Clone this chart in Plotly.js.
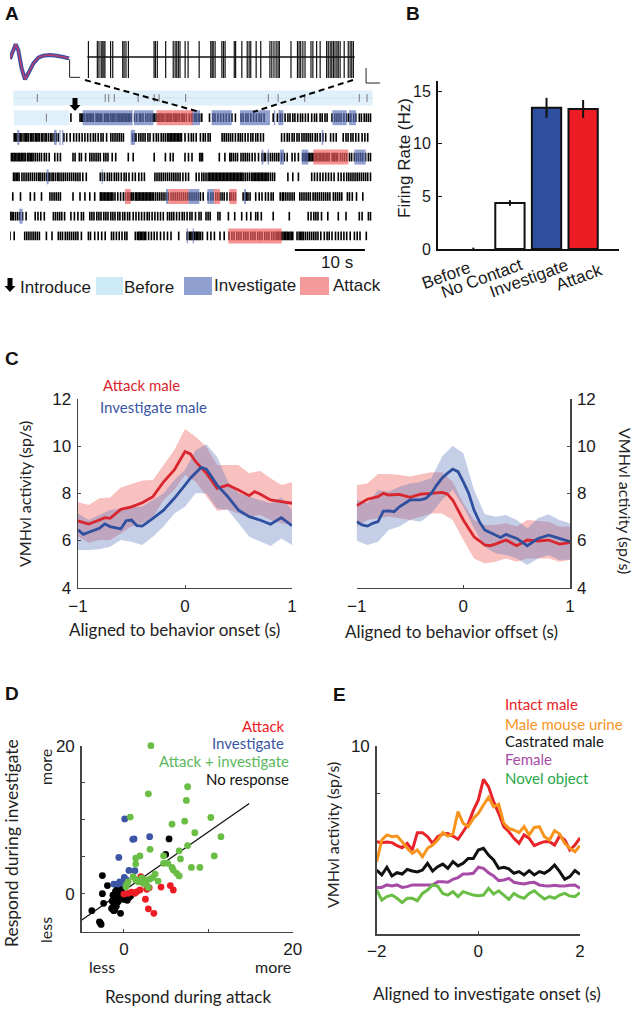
<!DOCTYPE html>
<html><head><meta charset="utf-8"><script src="https://cdn.plot.ly/plotly-3.0.1.min.js"></script>
<style>html,body{margin:0;padding:0;background:#fff}#p{width:638px;height:1009px}</style></head>
<body><div id="p"></div>
<script>
// ---------- Panel A data (seconds) ----------
const spikesBefore=[3.9,13.6,14.1,14.9,18.3,20.6,21.3,25.1,36.9,38.3,42.1,49.9,51];
const spikesBeforeRow1=[5.2];
const spikesRow1=[8.7,10.0,10.2,10.4,10.6,10.9,11.1,11.3,11.5,11.7,11.9,12.3,12.5,12.7,12.9,13.1,13.5,13.7,13.9,14.1,14.4,14.6,14.8,15.0,15.3,15.5,15.7,15.9,16.1,16.3,16.5,16.7,16.9,17.1,17.3,17.8,18.1,18.5,18.7,19.0,19.4,19.7,20.0,20.3,20.5,20.7,21.0,21.2,21.4,21.6,21.8,22.0,22.3,22.5,22.7,22.9,23.1,23.4,23.6,23.8,24.0,24.2,24.5,24.7,24.9,25.2,25.6,25.9,26.1,26.4,26.6,26.9,27.1,27.4,28.5,29.0,29.3,29.7,30.1,30.5,30.9,31.3,31.7,32.2,33.0,33.3,33.7,34.0,34.4,34.8,35.2,35.6,35.9,36.3,37.6,38.2,38.6,38.9,39.3,39.7,40.0,40.4,40.7,41.1,41.5,41.8,42.2,42.6,43.1,43.5,43.8,44.3,44.6,45.0,45.3,46.0,46.4,46.7,47.0,47.3,47.7,48.1,48.4,48.7,49.1,49.4,49.9,50.2,50.6,50.9,51.2,51.5];
const spikesRow2=[0.6,0.8,1.0,1.3,1.5,1.7,2.0,2.2,2.4,2.6,2.9,3.1,3.3,3.6,3.8,4.0,4.2,4.5,4.7,5.0,5.2,5.5,5.8,6.0,6.3,6.6,6.9,7.7,8.1,8.6,9.1,9.5,9.9,10.3,10.7,11.1,11.5,11.9,12.2,12.6,13.0,13.3,13.8,14.4,14.7,15.0,15.3,15.6,15.9,16.2,17.5,17.8,18.0,18.4,18.7,19.0,19.3,19.7,20.0,20.5,20.9,21.2,21.6,21.9,22.2,22.5,22.7,22.9,23.1,23.3,23.5,23.7,23.9,24.1,24.3,24.5,25.0,25.5,25.9,26.2,26.6,27.2,27.6,27.9,28.3,28.6,30.3,30.6,30.9,31.2,31.5,31.8,32.2,32.6,32.9,33.2,33.6,34.0,34.4,34.7,35.1,35.4,35.8,36.2,38.8,39.2,39.6,39.9,40.3,40.6,41.0,41.3,41.7,42.0,42.3,42.6,42.9,43.2,43.6,43.9,44.3,44.7,45.1,45.8,46.2,46.6,47.6,48.0,48.3,48.7,49.0,49.4,49.8,50.3,50.7,51.1];
const spikesRow3=[0.2,0.4,0.6,0.8,1.0,1.2,1.4,1.6,1.8,2.0,2.2,2.5,2.7,2.9,3.1,3.3,3.6,3.9,4.2,4.5,4.9,5.2,5.6,6.4,6.8,7.2,9.0,9.3,9.9,10.2,10.8,11.4,11.7,12.0,12.3,12.6,12.9,13.4,13.7,14.0,14.6,15.1,16.9,17.6,20.6,22.2,22.9,23.3,25.0,25.5,26.0,27.1,27.3,27.5,29.9,30.7,31.4,31.6,31.9,32.2,32.5,33.0,33.3,33.6,33.9,34.2,34.6,35.0,35.5,36.0,36.3,36.5,36.9,37.2,37.5,37.8,38.1,38.4,38.8,39.2,39.6,40.3,40.7,41.2,41.8,42.0,42.2,42.4,42.6,42.8,43.0,43.2,43.4,43.6,43.8,44.0,44.2,44.4,44.6,44.8,45.0,45.2,45.4,45.6,46.0,46.2,46.4,46.6,46.8,47.2,47.5,47.8,48.1,48.5,48.8,49.2,49.5,49.8,50.1,50.4,50.8,51.2,51.5];
const spikesRow4=[0.5,0.7,0.9,1.1,1.3,1.7,2.0,2.3,2.6,2.9,3.2,3.5,3.8,4.1,4.3,4.6,4.9,5.2,5.5,5.7,6.0,6.2,6.5,6.8,7.0,7.3,7.6,7.9,8.2,8.5,8.8,9.1,9.4,9.7,10.0,10.4,10.9,12.9,13.2,13.5,13.9,14.2,14.5,14.9,15.2,15.5,15.9,16.3,16.6,17.0,17.5,17.9,18.4,18.8,19.2,20.7,21.0,21.3,21.6,21.9,22.2,22.5,22.8,23.1,23.4,23.7,24.0,24.3,24.7,25.1,25.5,26.6,27.0,27.4,27.7,28.0,28.3,28.5,28.7,28.9,29.1,29.3,29.5,29.7,29.9,30.1,30.3,30.5,30.7,30.9,31.1,31.3,31.5,31.7,31.9,32.1,32.3,32.5,32.7,32.9,33.1,33.3,33.6,33.9,34.2,34.5,34.7,34.9,35.1,35.3,35.5,35.7,35.9,36.1,36.3,36.5,36.7,36.9,37.2,37.5,37.8,39.7,40.4,41.2,43.1,43.5,43.9,44.3,44.7,45.1,45.5,45.9,46.3,46.9,47.3,47.7,48.1,48.4,48.7,49.0,49.3,49.6,49.9,50.2,50.5,50.8,51.1,51.5];
const spikesRow5=[0.4,1.5,2.9,3.5,4.5,5.7,6.0,6.3,6.6,6.9,7.2,9.0,10.0,10.7,11.4,12.1,12.9,13.1,13.3,13.5,13.7,13.9,14.1,14.3,14.5,14.7,15.0,15.4,15.8,16.2,16.5,16.8,17.0,17.2,17.4,17.6,17.9,18.1,18.3,18.5,18.7,18.9,19.1,19.3,19.5,19.7,19.9,20.1,20.3,20.5,20.8,21.1,21.4,21.7,22.0,22.3,22.6,23.0,23.3,23.6,23.9,24.2,24.5,24.8,25.1,25.4,25.7,26.0,26.3,26.6,26.9,27.2,27.6,28.3,28.7,29.0,29.4,29.7,30.0,30.3,30.6,31.0,31.4,31.6,31.9,32.2,33.3,33.6,33.8,34.0,34.3,35.1,35.6,36.0,36.5,36.9,37.3,37.6,38.6,38.9,39.1,39.4,39.7,40.0,40.3,40.6,41.4,41.7,42.0,42.3,42.6,42.9,43.3,43.6,43.9,44.2,44.5,44.8,45.1,45.4,45.7,46.2,46.5,46.8,47.1,47.4,48.2,48.5,48.9,49.5,50.4];
const spikesRow6=[0.1,0.3,0.5,0.8,1.1,1.4,1.8,2.3,3.6,4.0,4.4,4.9,6.2,6.5,6.8,7.1,7.4,7.8,8.7,9.2,9.7,10.2,10.5,11.4,11.7,12.0,12.4,12.7,13.0,13.4,13.7,14.0,14.4,14.7,15.0,15.4,15.7,16.1,16.4,16.8,17.1,17.6,18.0,18.4,18.8,19.2,19.6,19.9,20.3,20.7,21.1,21.5,21.9,22.5,22.8,23.1,23.4,23.8,24.2,24.6,24.9,25.3,25.7,26.0,26.5,27.0,27.3,28.0,28.3,28.6,29.7,30.0,31.2,32.1,33.1,33.8,34.4,35.1,35.4,35.9,37.6,39.9,42.6,43.0,43.4,43.7,44.0,44.5,45.4,46.9,48.0,49.9,50.3,51.2,51.5];
const spikesRow7=[0,0.6,2.1,2.4,2.7,3.0,3.3,3.6,3.9,4.2,5.2,6.0,6.9,7.2,7.5,7.9,8.2,8.5,8.8,9.1,9.4,9.7,10.2,11.2,11.5,12.1,12.6,13.1,13.6,14.5,14.8,15.2,15.6,16.0,16.4,16.7,17.9,18.2,18.4,18.6,18.8,19.0,19.2,19.4,19.8,20.2,20.6,21.0,21.5,22.0,22.5,23.0,24.1,25.3,25.6,25.8,26.0,26.2,26.4,26.6,26.8,27.0,27.2,27.5,28.2,28.7,29.2,30.0,30.6,31.3,31.7,32.0,32.4,32.7,33.0,33.4,33.7,34.0,34.4,34.7,35.0,35.4,35.7,36.0,36.4,36.7,37.0,37.4,37.7,38.0,38.2,38.4,38.6,38.8,39.0,39.2,39.4,39.6,39.8,40.0,40.2,40.4,41.0,41.3,41.5,41.7,41.9,42.2,42.5,42.8,43.1,43.4,43.7,44.0,44.4,44.9,45.3,45.6,46.0,46.5,46.9,47.3,47.7,48.1,48.6,49.2,49.6,50.0,50.9];
const spikeRows=[spikesRow1,spikesRow2,spikesRow3,spikesRow4,spikesRow5,spikesRow6,spikesRow7];
const beforeBouts=[[0,0.48,51.8],[1,0.57,8.43]];
const investigateBouts=[[1,10.38,17.52],[1,17.71,20.48],[1,25.95,27.14],[1,28.8,31.67],[1,32.86,37.14],[1,37.7,37.9],[1,38.33,39.05],[1,46.05,48.1],[1,48.43,49.43],[2,1.05,1.33],[2,6.29,6.67],[2,7.05,7.24],[2,7.43,7.62],[2,17.24,17.86],[2,44.52,44.76],[3,35.95,36.19],[3,36.81,37],[3,38.57,39.14],[3,41.67,42.62],[3,49.19,50.81],[4,5.24,5.52],[4,13.1,13.24],[5,22.29,22.62],[5,25.48,27.05],[5,28.19,29.14],[5,33.43,33.71],[6,1.33,1.81],[7,25.24,25.43],[7,26.1,26.29]];
const attackBouts=[[1,20.95,26.1],[3,43.33,48.33],[5,16.43,17.24],[5,22.62,25.48],[5,29.14,30],[5,31.33,32.38],[7,31.19,38.81]];
const scaleBarX=[40.7,50.7];
const waveT=[0,0.14,0.29,0.42,0.59,0.76,0.93,1.19,1.44,1.69,2.03,2.37,2.71,3];
const waveA=[-0.2,2,4.2,2.5,-3,-6.3,-4.5,-1.5,0.2,0.8,1,0.8,0.4,0];
const traceSpikes=[0.09,0.42,0.48,0.56,0.60,0.66,0.70,0.91,0.99,1.36,1.41,1.48,1.57,2.52,2.57,2.64,2.95,3.23,3.30,3.36,3.42,3.48,3.67,3.78,4.19,4.62,4.67,4.71,4.78,5.03,5.09,5.15,5.49,5.54,5.77,5.97,6.04,6.10,6.30,6.47,6.81,6.88,6.96,7.04,7.11,7.16,7.59,7.83,7.89,7.95,8.03,8.11,8.33,8.40,8.54,8.67,8.91,8.97,9.04,9.10,9.16,9.22,9.29,9.34,9.41,9.56,9.71,9.78,9.84,9.9];
// ---------- Panel B data ----------
const barCats=['Before','No Contact','Investigate','Attack'];
const barVals=[0.03,4.37,13.4,13.3];
const barErr=[0.1,0.27,0.95,0.85];
const barColors=['#ffffff','#ffffff','#2f4f9f','#ee1c25'];
// ---------- Panel C data ----------
const gridX=[-1,-0.9,-0.8,-0.7,-0.6,-0.5,-0.4,-0.3,-0.2,-0.1,0,0.1,0.2,0.3,0.4,0.5,0.6,0.7,0.8,0.9,1];
const onAttackX=[-1,-0.9,-0.8,-0.75,-0.7,-0.6,-0.5,-0.4,-0.3,-0.2,-0.1,0,0.05,0.1,0.2,0.3,0.4,0.5,0.6,0.65,0.7,0.8,0.9,1];
const onAttackY=[6.83,6.70,6.87,6.97,6.94,7.32,7.43,7.60,7.86,8.49,8.99,9.77,9.67,9.34,8.85,8.21,8.35,8.14,7.90,8.07,7.97,7.72,7.65,7.58];
const onAttackUp=[7.62,7.51,7.79,7.82,8.25,8.40,8.54,8.57,9.20,9.84,10.73,10.40,9.98,9.20,9.20,9.20,8.85,8.96,8.64,8.35,8.47];
const onAttackLo=[6.16,5.91,6.02,6.02,6.30,6.59,6.73,7.01,7.72,8.14,8.78,8.49,7.86,7.26,7.32,7.15,7.01,7.08,6.87,6.73,6.66];
const onInvX=[-1,-0.95,-0.9,-0.8,-0.75,-0.7,-0.6,-0.55,-0.5,-0.45,-0.4,-0.3,-0.2,-0.1,0,0.05,0.15,0.2,0.3,0.4,0.5,0.6,0.7,0.8,0.9,1];
const onInvY=[6.45,6.26,6.35,6.52,6.70,6.59,6.49,6.84,6.87,6.63,6.61,6.94,7.29,7.79,8.35,8.64,9.10,9.02,8.35,7.86,7.29,7.01,6.87,6.69,6.97,6.63];
const onInvUp=[7.15,6.87,7.08,7.29,7.36,7.43,7.43,7.72,8.0,8.57,8.99,9.84,10.08,9.55,8.49,8.0,7.86,7.72,7.58,7.83,7.29];
const onInvLo=[5.60,5.60,5.63,5.74,6.02,5.95,5.81,6.16,6.59,7.15,7.43,8.0,8.0,7.36,7.29,6.73,6.16,5.95,5.77,6.09,5.81];
const offAttackX=[-1,-0.9,-0.8,-0.75,-0.7,-0.6,-0.5,-0.4,-0.3,-0.2,-0.15,-0.1,0,0.1,0.15,0.2,0.25,0.3,0.4,0.5,0.6,0.7,0.8,0.9,1];
const offAttackY=[7.48,7.75,7.86,8.0,7.93,7.96,7.83,7.97,8.0,8.04,7.97,7.72,6.87,6.16,5.99,5.81,5.78,5.85,6.02,5.78,6.02,5.98,6.02,5.85,5.91];
const offAttackUp=[8.35,8.42,8.82,8.82,8.78,8.71,8.81,8.89,8.89,8.49,7.58,6.87,6.66,6.66,6.73,6.59,6.87,6.84,6.80,6.59,6.59];
const offAttackLo=[6.59,6.87,6.94,7.01,6.94,6.87,7.01,7.15,7.15,6.87,6.02,5.24,5.03,5.10,5.24,5.10,5.24,5.24,5.24,5.10,5.17];
const offInvX=[-1,-0.95,-0.9,-0.85,-0.8,-0.75,-0.7,-0.65,-0.6,-0.5,-0.4,-0.35,-0.3,-0.25,-0.2,-0.15,-0.1,-0.05,0,0.05,0.1,0.15,0.2,0.3,0.35,0.4,0.5,0.6,0.7,0.8,0.9,1];
const offInvY=[6.80,6.66,6.61,6.73,6.80,7.25,7.26,7.22,7.43,7.72,7.72,7.79,8.0,8.35,8.64,8.85,9.03,8.92,8.49,8.0,7.29,6.80,6.45,6.23,6.13,6.26,6.09,5.78,6.09,6.23,6.09,5.95];
const offInvUp=[7.72,7.58,8.14,8.07,8.28,8.42,8.49,8.64,9.55,10.02,9.70,8.14,7.12,7.01,7.08,6.87,6.52,6.94,7.11,6.87,6.73];
const offInvLo=[5.99,5.81,5.95,6.45,6.59,6.87,6.80,7.15,7.72,8.14,7.43,6.52,5.74,5.46,5.39,5.24,4.96,5.24,5.39,5.17,5.20];
// ---------- Panel D data ----------
const fitX=[-5,14.85];
const fitY=[-3.55,12.2];
const noRespX=[5.35,4.95,-2.55,-1.95,-2.55,-2.4,-3.8,-2.9,-2.7,-2.8,-0.4,-1.45,-1.2,-1.0,-0.8,-0.6,-1.2,-1.4,-1.1,-0.9,-0.7,-0.5,-0.3,-1.3,-1.0,-0.8,-0.6,-1.2,-1.4,-1.1,-0.9,-0.4,-0.2,0.1,0.4,0.6,0.8,-0.6,-0.3,-1.0,-0.9,-0.8,-0.7,-0.9,-1.1,-0.6,-0.5,-0.4,-1.2,-1.0,-0.7,-0.2,0.2];
const noRespY=[7.4,5.3,2.45,1.1,0,-1.3,-2.3,-3.8,-4.15,-3.95,-2.65,-2.0,-2.3,-0.4,0.2,0.6,-0.8,-1.0,-1.4,-1.0,-0.5,-0.3,0.1,-0.2,0.3,-0.2,-0.9,-1.7,-2.0,-2.2,-1.7,-0.6,-0.7,-0.8,-0.9,-0.5,-0.3,0.9,0.8,-0.7,-1.3,0.6,-0.1,-0.4,-1.1,-0.6,0.3,-0.1,-1.3,-1.8,-1.1,-0.3,-0.4];
const attackX=[2.0,4.4,5.5,5.85,3,2.7,1.9,1.5,0.9,0.5,0,2.55,2.9,3.55,1.3];
const attackY=[2.3,0.9,1.1,0.5,0.8,0.6,0.5,0.25,0.2,0.05,-0.05,-0.75,-2.05,-2.65,0.05];
const investX=[0.1,3.05,1.2,1.05,-0.6,0.6,1.3,0.05,0.3,-0.5,-1.2,-0.7,-0.15];
const investY=[10.1,7.7,7.4,7.35,4.9,3.15,3.1,2.2,1.85,1.6,1.3,1.3,1.4];
const bothX=[3.2,7.55,7.4,2.9,0.75,10.3,7.2,5.7,8.4,11.5,7.55,3.1,6.55,10.7,1.9,1.4,4.7,6.7,4.7,5.2,1.4,8.0,9.0,5.7,5.85,6.25,6.55,3.7,3.4,3.1,4.05,1.1,1.4,2.1,2.5,2.3,2.7,2.9,0.3,0.5,0.25,1.7];
const bothY=[20,14.45,12.6,13.5,10.35,10.3,9.8,9.4,8.25,7.7,6.5,6.0,5.8,5.1,5.1,4.8,5.1,4.7,4.1,4.1,4.0,3.55,3.55,3.55,3.2,2.75,2.4,2.65,2.2,2.0,1.7,2.3,1.85,2.1,1.85,1.4,1.2,0.85,1.2,1.6,0.95,1.6];
// ---------- Panel E data ----------
const eX=[-2,-1.9,-1.8,-1.7,-1.6,-1.5,-1.4,-1.3,-1.2,-1.1,-1,-0.9,-0.8,-0.7,-0.6,-0.5,-0.4,-0.3,-0.2,-0.1,0,0.1,0.2,0.3,0.4,0.5,0.6,0.7,0.8,0.9,1,1.1,1.2,1.3,1.4,1.5,1.6,1.7,1.8,1.9,2];
const intactMale=[4.91,4.86,4.89,4.86,4.70,4.59,4.82,4.47,5.39,5.39,5.18,4.82,5.18,5.32,5.35,5.21,5.04,5.44,5.85,6.56,7.13,8.23,7.84,7.04,6.42,5.71,5.44,5.09,4.82,5.27,5.09,4.70,4.82,4.91,4.91,4.73,5.21,5.00,4.47,4.73,5.12];
const maleUrine=[3.85,5.0,5.27,5.18,5.21,4.91,4.56,4.29,4.47,4.11,4.56,4.73,5.0,5.39,5.21,5.32,6.51,5.89,5.71,6.15,6.42,6.86,7.27,6.77,6.91,5.89,5.62,5.53,5.39,5.71,5.27,5.67,5.71,5.18,5.0,5.5,5.32,4.82,4.56,4.38,4.70];
const castratedMale=[3.40,3.14,3.55,3.09,3.26,3.19,3.44,3.35,3.30,3.40,3.76,3.35,3.58,3.72,3.49,3.85,3.62,3.76,4.02,4.02,4.47,4.56,4.20,3.94,3.49,3.55,3.46,3.23,3.32,3.14,3.37,3.14,3.32,3.23,3.40,3.67,3.32,2.91,3.05,3.37,3.17];
const female=[2.48,2.48,2.61,2.55,2.61,2.48,2.52,2.61,2.61,2.61,2.61,2.61,2.78,2.78,2.75,2.91,3.0,3.19,3.19,3.23,3.55,3.49,3.26,3.09,2.84,2.87,2.96,2.75,2.70,2.66,2.73,2.75,2.61,2.57,2.55,2.59,2.55,2.55,2.59,2.61,2.43];
const novelObject=[2.34,1.81,1.99,2.07,1.90,1.67,1.90,1.90,1.77,2.16,2.34,2.61,2.55,2.16,2.07,2.25,1.99,2.25,2.16,2.07,2.04,2.07,2.43,2.13,2.30,2.07,1.84,2.16,1.99,1.90,2.16,2.30,2.07,1.86,1.99,1.90,2.07,2.16,2.02,1.99,2.20];

// ---------- helpers ----------
const W=638,H=1009;
const SANS='Liberation Sans, Arial, sans-serif', HUM='Lato, "Open Sans", sans-serif';
const dx=(a,b)=>[a/W,b/W], dy=(t,b)=>[1-b/H,1-t/H];
const px=x=>x/W, py=y=>1-y/H;
function ticks(ts,lo,hi){const x=[],y=[];ts.forEach(t=>{x.push(t,t,null);y.push(lo,hi,null)});return {x,y}}
function band(xs,up,lo,ax,ay,color){return {x:xs.concat(xs.slice().reverse()),y:up.concat(lo.slice().reverse()),xaxis:ax,yaxis:ay,mode:'lines',line:{width:0},fill:'toself',fillcolor:color,hoverinfo:'skip',showlegend:false}}
function line(x,y,ax,ay,color,width){return {x,y,xaxis:ax,yaxis:ay,mode:'lines',line:{color,width,simplify:false},hoverinfo:'skip',showlegend:false}}
function txt(text,x,y,o={}){return Object.assign({text,x:px(x),y:py(y),xref:'paper',yref:'paper',showarrow:false,xanchor:'center',yanchor:'middle',font:{family:SANS,size:17,color:'#1a1a1a'}},o)}
function hum(text,x,y,color,size,o={}){return txt(text,x,y,Object.assign({font:{family:HUM,size:size||17,color:color||'#222'}},o))}
function arrowPath(x,y0,y1){const s=[[x-2.5,y0],[x+2.5,y0],[x+2.5,y1-6],[x+5.5,y1-6],[x,y1],[x-5.5,y1-6],[x-2.5,y1-6]];return 'M'+s.map(p=>px(p[0]).toFixed(5)+','+py(p[1]).toFixed(5)).join('L')+'Z'}
function pshape(type,x0,y0,x1,y1,o){return Object.assign({type,xref:'paper',yref:'paper',x0:px(x0),x1:px(x1),y0:py(y0),y1:py(y1)},o)}

const traces=[];
const shapes=[];
const boutShape=(b,color,layer)=>({type:'rect',xref:'x',yref:'y',x0:b[1],x1:b[2],y0:b[0]-0.38,y1:b[0]+0.38,fillcolor:color,line:{width:0},layer});
beforeBouts.forEach(b=>shapes.push(boutShape(b,'#e0f0fa','below')));
investigateBouts.forEach(b=>shapes.push(boutShape(b,'rgba(95,115,185,0.68)','above')));
attackBouts.forEach(b=>shapes.push(boutShape(b,'rgba(243,95,95,0.68)','above')));
traces.push(line([0.48,51.8],[0,0],'x','y','#c9d6de',0.6));
let t0=ticks(spikesBefore,-0.2,0.2);traces.push(line(t0.x,t0.y,'x','y','#777',1));
let t0b=ticks(spikesBeforeRow1,0.8,1.2);traces.push(line(t0b.x,t0b.y,'x','y','#777',1));
spikeRows.forEach((r,i)=>{const t=ticks(r,i+1-0.22,i+1+0.22);traces.push(line(t.x,t.y,'x','y','#000',1.6))});
traces.push(line(scaleBarX,[7.71,7.71],'x','y','#000',2));
traces.push(line(waveT,waveA,'x2','y2','#3a4fa5',4));
traces.push(line(waveT,waveA,'x2','y2','#b8406f',1.5));
traces.push(line([3.03,3.03,3.56],[-0.3,-5.7,-5.7],'x2','y2','#222',1));
let t1=ticks(traceSpikes,-2.21,1.68);traces.push(line(t1.x,t1.y,'x3','y3','#111',1.2));
traces.push(line([0.05,9.95],[0,0],'x3','y3','#111',1.6));
traces.push(line([10.37,10.37,10.89],[-1.16,-2.74,-2.74],'x3','y3','#222',1));
traces.push({type:'bar',x:[1,2,3,4],y:barVals,width:0.8,xaxis:'x4',yaxis:'y4',marker:{color:barColors,line:{color:'#111',width:[0,2,2,2]}},error_y:{type:'data',array:barErr,color:'#111',thickness:2,width:0},hoverinfo:'skip',showlegend:false});
const RED='#d9262e',BLUE='#2f4f9f',RF='rgba(240,105,105,0.42)',BF='rgba(85,115,185,0.35)';
traces.push(band(gridX,onAttackUp,onAttackLo,'x5','y5',RF));
traces.push(band(gridX,onInvUp,onInvLo,'x5','y5',BF));
traces.push(line(onAttackX,onAttackY,'x5','y5',RED,2.8));
traces.push(line(onInvX,onInvY,'x5','y5',BLUE,2.8));
traces.push(band(gridX,offAttackUp,offAttackLo,'x6','y6',RF));
traces.push(band(gridX,offInvUp,offInvLo,'x6','y6',BF));
traces.push(line(offAttackX,offAttackY,'x6','y6',RED,2.8));
traces.push(line(offInvX,offInvY,'x6','y6',BLUE,2.8));
traces.push(line(fitX,fitY,'x7','y7','#111',1.3));
[[noRespX,noRespY,'#000'],[attackX,attackY,'#ed1c24'],[investX,investY,'#3c55a5'],[bothX,bothY,'#6abd45']].forEach(s=>traces.push({x:s[0],y:s[1],xaxis:'x7',yaxis:'y7',mode:'markers',cliponaxis:false,marker:{color:s[2],size:6.8},hoverinfo:'skip',showlegend:false}));
[[intactMale,'#e8232a'],[castratedMale,'#111'],[female,'#a64ca6'],[novelObject,'#6abd45'],[maleUrine,'#f7941d']].forEach(s=>traces.push(line(eX,s[0],'x8','y8',s[1],3)));

shapes.push(pshape('line',85,80,200,112,{line:{color:'#000',width:2,dash:'6px,4px'}}));
shapes.push(pshape('line',353,80,253,112,{line:{color:'#000',width:2,dash:'6px,4px'}}));
shapes.push({type:'path',xref:'paper',yref:'paper',path:arrowPath(75,98,111),fillcolor:'#000',line:{width:0}});
shapes.push({type:'path',xref:'paper',yref:'paper',path:arrowPath(10,278,292),fillcolor:'#000',line:{width:0}});
shapes.push(pshape('rect',96,277,123,295,{fillcolor:'#cdeaf7',line:{width:0}}));
shapes.push(pshape('rect',184,277,212,295,{fillcolor:'#8f9fcf',line:{width:0}}));
shapes.push(pshape('rect',300,277,329,295,{fillcolor:'#f59a9a',line:{width:0}}));

const bold={family:SANS,size:19,color:'#111',weight:700};
const annotations=[
 txt('<b>A</b>',12,14,{font:bold}),txt('<b>B</b>',413,13,{font:bold}),txt('<b>C</b>',12,358,{font:bold}),txt('<b>D</b>',12,693,{font:bold}),txt('<b>E</b>',339,694,{font:bold}),
 txt('10 s',337,262),
 txt('Introduce',18,287,{xanchor:'left'}),txt('Before',122,287,{xanchor:'left'}),txt('Investigate',212,286,{xanchor:'left'}),txt('Attack',331,286,{xanchor:'left'}),
 txt('Firing Rate (Hz)',405,158,{textangle:-90}),
 txt(barCats[0],446,275,{textangle:-20}),txt(barCats[1],482,278,{textangle:-20}),txt(barCats[2],529,279,{textangle:-20}),txt(barCats[3],579,277,{textangle:-20}),
 hum('Attack male',141,385,RED,15),hum('Investigate male',153,407,'#3b55a5',15),
 hum('Aligned to behavior onset (s)',174,629),hum('Aligned to behavior offset (s)',451,631),
 hum('VMHvl activity (sp/s)',24,494,'#222',16,{textangle:-90}),hum('VMHvl activity (sp/s)',626,501,'#222',16,{textangle:90}),
 hum('Attack',263,726,'#ed1c24',15),hum('Investigate',248,743,'#3c55a5',15),hum('Attack + investigate',224,761,'#5cb85c',15),hum('No response',247,779,'#111',15),
 hum('less',102,966,'#222',16),hum('more',273,966,'#222',16),hum('more',45,767,'#222',16,{textangle:-90}),hum('less',45,930,'#222',16,{textangle:-90}),
 hum('Respond during investigate',11,843,'#222',17.5,{textangle:-90}),hum('Respond during attack',188,996),
 hum('Intact male',503,704,'#e8232a',15,{xanchor:'left'}),hum('Male mouse urine',503,724,'#f7941d',15,{xanchor:'left'}),hum('Castrated male',503,741,'#111',15,{xanchor:'left'}),hum('Female',503,759,'#a64ca6',15,{xanchor:'left'}),hum('Novel object',503,778,'#2aa84a',15,{xanchor:'left'}),
 hum('Aligned to investigate onset (s)',487,993),hum('VMHvl activity (sp/s)',332,835,'#222',16,{textangle:-90})
];
const hidden={visible:false,fixedrange:true};
const tf={family:SANS,size:17,color:'#1a1a1a'};
const axX=(o)=>Object.assign({showgrid:false,zeroline:false,showline:true,linecolor:'#444',linewidth:1.5,ticks:'inside',ticklen:3,tickcolor:'#444',tickfont:tf,ticklabelstandoff:2},o);
const layout={width:W,height:H,margin:{l:0,r:0,t:0,b:0},paper_bgcolor:'#fff',plot_bgcolor:'rgba(0,0,0,0)',showlegend:false,bargap:0.2,shapes,annotations,
 xaxis:Object.assign({domain:dx(10,374),range:[0,52]},hidden),yaxis:Object.assign({domain:dy(88,260),range:[8.223,-0.508]},hidden),
 xaxis2:Object.assign({domain:dx(10,82),range:[0,3.66]},hidden),yaxis2:Object.assign({domain:dy(40,82),range:[-7.1,5.5]},hidden),
 xaxis3:Object.assign({domain:dx(86,382),range:[0,10.96]},hidden),yaxis3:Object.assign({domain:dy(38,85),range:[-2.947,2]},hidden),
 xaxis4:axX({domain:dx(438,619),range:[0.035,4.98],anchor:'y4',tickvals:[],linecolor:'#111',linewidth:2}),
 yaxis4:axX({domain:dy(81,249),range:[0,15.95],anchor:'x4',tickvals:[0,5,10,15],linecolor:'#111',linewidth:2,ticklen:4,tickcolor:'#111',tickfont:{family:SANS,size:16,color:'#1a1a1a'},ticklabelstandoff:2}),
 xaxis5:axX({domain:dx(78,292),range:[-1,1],anchor:'y5',tickvals:[-1,0,1],ticktext:['\u22121','0','1'],ticklabelstandoff:2}),
 yaxis5:axX({domain:dy(399,587.7),range:[4,12],anchor:'x5',tickvals:[4,6,8,10,12]}),
 xaxis6:axX({domain:dx(356.7,570),range:[-1,1],anchor:'y6',tickvals:[-1,0,1],ticktext:['\u22121','0','1'],ticklabelstandoff:2}),
 yaxis6:axX({domain:dy(399,587.7),range:[4,12],anchor:'x6',side:'right',tickvals:[4,6,8,10,12]}),
 xaxis7:axX({domain:dx(81.7,292.7),range:[-5,20],anchor:'y7',tickvals:[0,10,20],ticktext:['0','','20'],ticklabelstandoff:1}),
 yaxis7:axX({domain:dy(745.7,931.7),range:[-5.135,20],anchor:'x7',tickvals:[0,5,10,15,20],ticktext:['0','','','','20']}),
 xaxis8:axX({domain:dx(376.7,580),range:[-2,2],anchor:'y8',tickvals:[-2,0,2],ticktext:['\u22122','0','2'],ticklabelstandoff:1}),
 yaxis8:axX({domain:dy(746,934),range:[0,10],anchor:'x8',tickvals:[7.5,10],ticktext:['','10']})
};
Plotly.newPlot('p',traces,layout,{staticPlot:true,displayModeBar:false});
</script></body></html>
